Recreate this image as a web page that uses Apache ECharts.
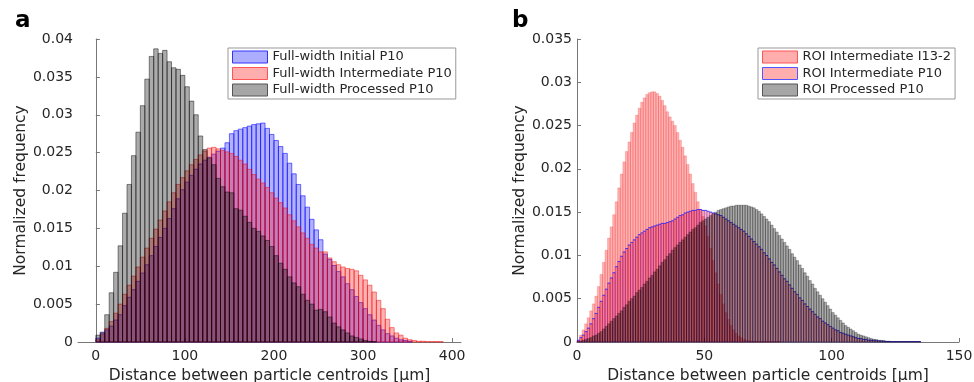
<!DOCTYPE html>
<html>
<head>
<meta charset="utf-8">
<script src="https://cdn.jsdelivr.net/npm/echarts@6/dist/echarts.min.js"></script>
<style>
  html, body { margin: 0; padding: 0; background: #fff; }
  #main { width: 974px; height: 382px; }
</style>
</head>
<body>
<div id="main"></div>
<script>
// ---- panel a: full-width histograms, 5 µm bins starting at 0 ----
const binWidthA = 5;
const initialP10 = [
  0.0005, 0.0012, 0.0016, 0.0021, 0.0029, 0.0036, 0.0048, 0.0059, 0.0069, 0.0080,
  0.0091, 0.0102, 0.0114, 0.0126, 0.0138, 0.0150, 0.0163, 0.0176, 0.0189, 0.0201,
  0.0211, 0.0220, 0.0228, 0.0235, 0.0240, 0.0244, 0.0248, 0.0252, 0.0256, 0.0263,
  0.0275, 0.0279, 0.0281, 0.0283, 0.0285, 0.0287, 0.0288, 0.0289, 0.0282, 0.0274,
  0.0266, 0.0258, 0.0249, 0.0236, 0.0222, 0.0208, 0.0193, 0.0178, 0.0162, 0.0148,
  0.0135, 0.0116, 0.0109, 0.0101, 0.0093, 0.0086, 0.0077, 0.0069, 0.0060, 0.0052,
  0.0044, 0.0036, 0.0029, 0.0022, 0.0016, 0.0011, 0.0008, 0.0005, 0.0003, 0.0002,
  0.0001
];
const intermediateP10 = [
  0.0003, 0.0010, 0.0018, 0.0027, 0.0038, 0.0050, 0.0063, 0.0075, 0.0087, 0.0099,
  0.0112, 0.0124, 0.0137, 0.0149, 0.0161, 0.0173, 0.0185, 0.0197, 0.0208, 0.0217,
  0.0226, 0.0234, 0.0241, 0.0247, 0.0252, 0.0256, 0.0257, 0.0255, 0.0253, 0.0251,
  0.0249, 0.0245, 0.0240, 0.0235, 0.0228, 0.0221, 0.0215, 0.0210, 0.0204, 0.0197,
  0.0190, 0.0184, 0.0177, 0.0168, 0.0160, 0.0152, 0.0144, 0.0137, 0.0129, 0.0124,
  0.0119, 0.0119, 0.0111, 0.0106, 0.0102, 0.0099, 0.0097, 0.0096, 0.0094, 0.0088,
  0.0082, 0.0075, 0.0066, 0.0055, 0.0044, 0.0030, 0.0019, 0.0012, 0.0009, 0.0005,
  0.0003, 0.0002, 0.0001, 0.0001, 0.00005, 0.00005, 0.00005, 0.00005
];
const processedP10 = [
  0.0009, 0.0013, 0.0036, 0.0065, 0.0092, 0.0127, 0.0170, 0.0208, 0.0246, 0.0277,
  0.0312, 0.0347, 0.0377, 0.0387, 0.0381, 0.0385, 0.0370, 0.0362, 0.0360, 0.0352,
  0.0337, 0.0318, 0.0300, 0.0272, 0.0254, 0.0243, 0.0234, 0.0216, 0.0205, 0.0198,
  0.0197, 0.0176, 0.0174, 0.0166, 0.0158, 0.0150, 0.0146, 0.0140, 0.0134, 0.0126,
  0.0114, 0.0104, 0.0096, 0.0086, 0.0078, 0.0073, 0.0063, 0.0055, 0.0050, 0.0042,
  0.0043, 0.0040, 0.0033, 0.0025, 0.0020, 0.0016, 0.0012, 0.0008, 0.0006, 0.0004,
  0.0002, 0.0001, 0.00005
];
const xTicksA = [0, 100, 200, 300, 400];

// ---- panel b: ROI histograms, 1 µm bins starting at 0 ----
const binWidthB = 1;
const roiIntermediateI13 = [
  0.0002, 0.0008, 0.0014, 0.0021, 0.0028, 0.0036, 0.0044, 0.0053, 0.0064, 0.0078,
  0.0092, 0.0106, 0.0120, 0.0133, 0.0147, 0.0162, 0.0178, 0.0194, 0.0208, 0.0220,
  0.0231, 0.0242, 0.0253, 0.0262, 0.0270, 0.0277, 0.0282, 0.0286, 0.0288, 0.0289,
  0.0289, 0.0287, 0.0284, 0.0279, 0.0273, 0.0266, 0.0260, 0.0255, 0.0250, 0.0242,
  0.0233, 0.0225, 0.0215, 0.0205, 0.0194, 0.0183, 0.0173, 0.0162, 0.0153, 0.0145,
  0.0134, 0.0122, 0.0108, 0.0094, 0.0080, 0.0067, 0.0055, 0.0044, 0.0034, 0.0026,
  0.0019, 0.0014, 0.0010, 0.0007, 0.0005, 0.0003, 0.0002, 0.00015, 0.0001, 0.00005,
  0.00005, 0.00005, 0.00005, 0.00005, 0.00005, 0.00005, 0.00005, 0.00005, 0.00005, 0.00005
];
const roiIntermediateP10 = [
  0.0002, 0.0005, 0.0008, 0.0012, 0.0016, 0.0021, 0.0027, 0.0033, 0.0040, 0.0047,
  0.0054, 0.0061, 0.0068, 0.0074, 0.0080, 0.0087, 0.0093, 0.0099, 0.0104, 0.0108,
  0.0112, 0.0115, 0.0118, 0.0121, 0.0124, 0.0126, 0.0128, 0.0130, 0.0132, 0.0133,
  0.0134, 0.0135, 0.0136, 0.0137, 0.0137, 0.0138, 0.0139, 0.0140, 0.0142, 0.0144,
  0.0146, 0.0147, 0.0149, 0.0150, 0.0151, 0.0152, 0.0152, 0.0153, 0.0153, 0.0152,
  0.0152, 0.0151, 0.0150, 0.0149, 0.0148, 0.0147, 0.0146, 0.0144, 0.0142, 0.0140,
  0.0138, 0.0136, 0.0134, 0.0132, 0.0130, 0.0128, 0.0125, 0.0122, 0.0119, 0.0116,
  0.0113, 0.0110, 0.0107, 0.0103, 0.0100, 0.0096, 0.0092, 0.0089, 0.0085, 0.0081,
  0.0077, 0.0073, 0.0070, 0.0066, 0.0062, 0.0058, 0.0055, 0.0051, 0.0048, 0.0044,
  0.0041, 0.0038, 0.0035, 0.0032, 0.0029, 0.0027, 0.0024, 0.0022, 0.0020, 0.0018,
  0.0016, 0.0014, 0.0013, 0.0011, 0.0010, 0.0009, 0.0008, 0.0007, 0.0006, 0.0005,
  0.0004, 0.0004, 0.0003, 0.0003, 0.0002, 0.0002, 0.0002, 0.00015, 0.00012, 0.0001,
  0.0001, 0.00005, 0.00005, 0.00005, 0.00005, 0.00005, 0.00005, 0.00005, 0.00005, 0.00005,
  0.00005, 0.00005, 0.00005, 0.00005, 0.00005
];
const roiProcessedP10 = [
  0.00005, 0.0001, 0.0002, 0.0003, 0.0004, 0.0005, 0.0007, 0.0008, 0.0010, 0.0012,
  0.0015, 0.0018, 0.0021, 0.0024, 0.0027, 0.0030, 0.0033, 0.0036, 0.0040, 0.0043,
  0.0047, 0.0050, 0.0053, 0.0057, 0.0060, 0.0063, 0.0067, 0.0070, 0.0074, 0.0077,
  0.0081, 0.0084, 0.0088, 0.0092, 0.0095, 0.0099, 0.0102, 0.0106, 0.0109, 0.0112,
  0.0115, 0.0118, 0.0121, 0.0124, 0.0127, 0.0130, 0.0132, 0.0135, 0.0138, 0.0140,
  0.0142, 0.0144, 0.0146, 0.0148, 0.0150, 0.0152, 0.0153, 0.0154, 0.0155, 0.0156,
  0.0157, 0.0157, 0.0158, 0.0158, 0.0158, 0.0158, 0.0158, 0.0157, 0.0156, 0.0155,
  0.0153, 0.0151, 0.0148, 0.0145, 0.0142, 0.0139, 0.0135, 0.0131, 0.0127, 0.0123,
  0.0119, 0.0115, 0.0111, 0.0107, 0.0102, 0.0098, 0.0094, 0.0089, 0.0085, 0.0080,
  0.0076, 0.0071, 0.0067, 0.0062, 0.0058, 0.0054, 0.0050, 0.0046, 0.0042, 0.0038,
  0.0034, 0.0031, 0.0028, 0.0025, 0.0022, 0.0019, 0.0017, 0.0015, 0.0013, 0.0011,
  0.0009, 0.0008, 0.0007, 0.0006, 0.0005, 0.0004, 0.0003, 0.0003, 0.0002, 0.0002,
  0.00015, 0.0001, 0.0001, 0.00005, 0.00005, 0.00005, 0.00005, 0.00005, 0.00005, 0.00005,
  0.00005, 0.00005, 0.00005, 0.00005, 0.00005
];
const xTicksB = [0, 50, 100, 150];

const names = {
  initial: 'Full-width Initial P10',
  intermediate: 'Full-width Intermediate P10',
  processed: 'Full-width Processed P10',
  roiI13: 'ROI Intermediate I13-2',
  roiP10: 'ROI Intermediate P10',
  roiProcessed: 'ROI Processed P10',
};

// [binStart, binEnd, value]
function toBins(values, width) {
  return values
    .map((v, i) => [i * width, (i + 1) * width, v])
    .filter((d) => d[2] > 0);
}

// each bin is a rectangle; an optional outline colour is drawn along the top edge only
function histRenderer(fill, stroke, lineWidth, topStroke) {
  return function (params, api) {
    const top = api.coord([api.value(0), api.value(2)]);
    const base = api.coord([api.value(1), 0]);
    const rect = {
      type: 'rect',
      shape: { x: top[0], y: top[1], width: base[0] - top[0], height: base[1] - top[1] },
      style: { fill: fill, stroke: stroke, lineWidth: lineWidth },
    };
    if (!topStroke) return rect;
    return {
      type: 'group',
      children: [
        rect,
        {
          type: 'line',
          shape: { x1: top[0], y1: top[1], x2: base[0], y2: top[1] },
          style: { stroke: topStroke, lineWidth: 1 },
        },
      ],
    };
  };
}

function histSeries(name, values, width, axis, fill, stroke, lineWidth, legendBorder, topStroke) {
  return {
    type: 'custom',
    name: name,
    xAxisIndex: axis,
    yAxisIndex: axis,
    dimensions: ['x0', 'x1', 'y'],
    encode: { x: [0, 1], y: 2 },
    renderItem: histRenderer(fill, stroke, lineWidth, topStroke),
    itemStyle: { color: fill, borderColor: legendBorder, borderWidth: 1 },
    data: toBins(values, width),
    silent: true,
  };
}

const textColor = '#262626';
const axisColor = '#777';
const font = 'DejaVu Sans';

function xAxisFor(index, min, max, ticks) {
  return {
    type: 'value',
    gridIndex: index,
    min: min,
    max: max,
    name: 'Distance between particle centroids [µm]',
    nameLocation: 'middle',
    nameGap: 22,
    nameTextStyle: { fontFamily: font, fontSize: 15.5, color: textColor },
    axisLine: { show: true, onZero: false, lineStyle: { color: axisColor, width: 1 } },
    axisTick: { show: true, inside: true, length: 4, customValues: ticks, lineStyle: { color: axisColor } },
    axisLabel: { customValues: ticks, margin: 7, fontFamily: font, fontSize: 14, color: textColor },
    splitLine: { show: false },
  };
}

function yAxisFor(index, max) {
  return {
    type: 'value',
    gridIndex: index,
    min: 0,
    max: max,
    interval: 0.005,
    name: 'Normalized frequency',
    nameLocation: 'middle',
    nameGap: 49,
    nameTextStyle: { fontFamily: font, fontSize: 15.5, color: textColor },
    axisLine: { show: true, lineStyle: { color: axisColor, width: 1 } },
    axisTick: { show: true, inside: true, length: 4, lineStyle: { color: axisColor } },
    axisLabel: { margin: 5, fontFamily: font, fontSize: 14, color: textColor },
    splitLine: { show: false },
  };
}

function legendFor(left, items) {
  return {
    orient: 'vertical',
    left: left,
    top: 48,
    padding: [1, 4, 1, 4],
    itemWidth: 35,
    itemHeight: 12,
    itemGap: 0.5,
    icon: 'rect',
    borderColor: '#999',
    borderWidth: 1,
    backgroundColor: '#fff',
    selectedMode: false,
    textStyle: { fontFamily: font, fontSize: 13, color: textColor, lineHeight: 16 },
    data: items,
  };
}

const blueFill = 'rgba(0,0,255,0.3)';
const redFill = 'rgba(255,0,0,0.3)';
const grayFill = 'rgba(0,0,0,0.33)';

const chart = echarts.init(document.getElementById('main'), null, { renderer: 'canvas' });

const option = {
  animation: false,
  backgroundColor: '#fff',
  grid: [
    { left: 78, right: 513, top: 39, bottom: 40, containLabel: false, outerBoundsMode: 'none' },
    { left: 577, right: 15, top: 39, bottom: 40, containLabel: false, outerBoundsMode: 'none' },
  ],
  xAxis: [xAxisFor(0, -20, 410, xTicksA), xAxisFor(1, 0, 150, xTicksB)],
  yAxis: [yAxisFor(0, 0.04), yAxisFor(1, 0.035)],
  legend: [
    legendFor(228, [
      { name: names.initial, itemStyle: { color: 'rgba(0,0,255,0.32)', borderColor: '#3333ff', borderWidth: 1 } },
      { name: names.intermediate, itemStyle: { color: 'rgba(255,0,0,0.32)', borderColor: '#ff5555', borderWidth: 1 } },
      { name: names.processed, itemStyle: { color: 'rgba(0,0,0,0.35)', borderColor: '#555', borderWidth: 1 } },
    ]),
    legendFor(758, [
      { name: names.roiI13, itemStyle: { color: 'rgba(255,0,0,0.32)', borderColor: '#ff5555', borderWidth: 1 } },
      { name: names.roiP10, itemStyle: { color: 'rgba(255,0,0,0.32)', borderColor: '#5555ff', borderWidth: 1 } },
      { name: names.roiProcessed, itemStyle: { color: 'rgba(0,0,0,0.35)', borderColor: '#555', borderWidth: 1 } },
    ]),
  ],
  graphic: [
    { type: 'text', left: 15, top: 10, style: { text: 'a', fontFamily: font, fontWeight: 'bold', fontSize: 23, fill: '#000' } },
    { type: 'text', left: 512, top: 10, style: { text: 'b', fontFamily: font, fontWeight: 'bold', fontSize: 23, fill: '#000' } },
  ],
  series: [
    histSeries(names.initial, initialP10, binWidthA, 0, blueFill, 'rgba(0,0,255,0.55)', 1, '#3333ff'),
    histSeries(names.intermediate, intermediateP10, binWidthA, 0, redFill, 'rgba(235,0,0,0.45)', 1, '#ff5555'),
    histSeries(names.processed, processedP10, binWidthA, 0, grayFill, 'rgba(0,0,0,0.45)', 1, '#555'),
    histSeries(names.roiI13, roiIntermediateI13, binWidthB, 1, redFill, 'rgba(230,0,0,0.3)', 0.6, '#ff5555'),
    histSeries(names.roiP10, roiIntermediateP10, binWidthB, 1, redFill, 'rgba(60,0,255,0.4)', 0.6, '#5555ff', 'rgba(40,40,255,0.8)'),
    histSeries(names.roiProcessed, roiProcessedP10, binWidthB, 1, 'rgba(0,0,0,0.33)', 'rgba(0,0,0,0.45)', 0.6, '#555'),
  ],
};

chart.setOption(option);
</script>
</body>
</html>
